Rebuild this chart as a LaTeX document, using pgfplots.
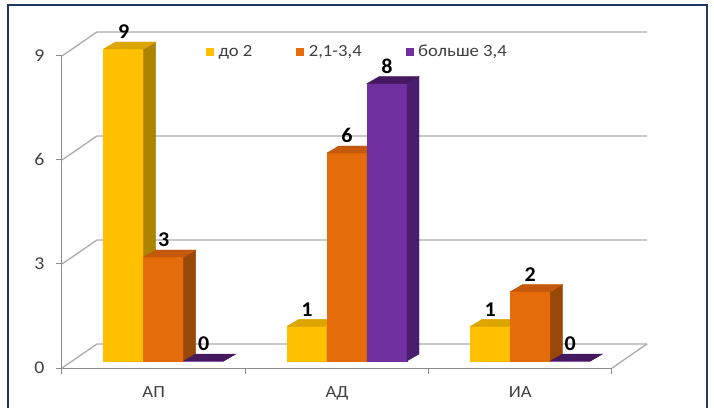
\documentclass[border=0pt]{standalone}
\usepackage{pgfplots}
\usepackage{pgfplotstable}
\pgfplotsset{compat=1.18}
\usepackage{fontspec}
\setmainfont{Carlito}[FakeStretch=1.1]
\newfontfamily\lblfont{Carlito}[FakeStretch=1.05]

\definecolor{yF}{HTML}{FFC000}
\definecolor{yS}{HTML}{AD8400}
\definecolor{yT}{HTML}{DDA500}
\definecolor{oF}{HTML}{E46C0A}
\definecolor{oS}{HTML}{984807}
\definecolor{oT}{HTML}{C4580C}
\definecolor{pF}{HTML}{7030A0}
\definecolor{pS}{HTML}{4A1E6C}
\definecolor{pT}{HTML}{45195F}
\definecolor{gridc}{HTML}{ABABAB}
\definecolor{axisc}{HTML}{8C8C8C}
\definecolor{tickc}{HTML}{404040}
\definecolor{framec}{HTML}{1F3864}

\pgfplotstableread{
x v
0.5 9
1.5 1
2.5 1
}\tYellow
\pgfplotstableread{
x v
0.5 3
1.5 6
2.5 2
}\tOrange
\pgfplotstableread{
x v
0.5 0
1.5 8
2.5 0
}\tPurple

\pgfplotsset{
  box3d/.style n args={4}{%
    nodes near coords,
    nodes near coords style={anchor=south, inner sep=0pt, xshift=#1+10pt, yshift=17pt,
      font=\lblfont\fontsize{21}{21}\selectfont\bfseries, text=black},
    scatter, only marks, mark=*, mark size=0pt,
    mark options={draw=none,fill=none},
    visualization depends on={rawy \as \val},
    scatter/@pre marker code/.code={%
      \pgfmathsetlengthmacro\hh{\val*34.67pt}%
      \fill[#2] (#1-10pt, 7pt-\hh) rectangle (#1+30pt, 7pt);
      \fill[#3] (#1+30pt, 7pt) -- (#1+42pt, 14pt) -- (#1+42pt, 14pt-\hh) -- (#1+30pt, 7pt-\hh) -- cycle;
      \fill[#4] (#1-10pt, 7pt) -- (#1+30pt, 7pt) -- (#1+42pt, 14pt) -- (#1+2pt, 14pt) -- cycle;
    },
    legend image code/.code={\fill[#2] (0pt,-3.5pt) rectangle (7pt,3.5pt);},
  }
}

\begin{document}
\begin{tikzpicture}
\begin{axis}[
  x=183.33pt, y=34.67pt,
  xmin=0, xmax=3, ymin=0, ymax=9,
  clip=false,
  axis x line=bottom, axis y line=left,
  axis line style={-, draw=axisc, line width=1pt},
  xtick={0,1,2,3}, xticklabels={АП,АД,ИА}, x tick label as interval,
  ytick={0,3,6,9},
  tick align=outside, major tick length=6pt,
  tick style={draw=axisc, line width=1pt},
  yticklabel style={font=\fontsize{18}{18}\selectfont, text=tickc, xshift=-8pt},
  xticklabel style={font=\fontsize{17}{17}\selectfont, text=tickc, yshift=-9.5pt},
  /pgf/number format/assume math mode=true,
  legend columns=3,
  legend style={at={(axis cs:0.7855,9.13)}, anchor=west, draw=none, fill=none,
    inner sep=0pt, font=\fontsize{17}{17}\selectfont, text=tickc,
    nodes={inner sep=0pt},
    /tikz/every odd column/.append style={column sep=5pt},
    /tikz/every even column/.append style={column sep=44pt}},
  legend cell align=left,
]
\coordinate (O) at (axis cs:0,0);
\pgfplotsinvokeforeach{0,3,6,9}{
  \draw[gridc, line width=1.3pt] (axis cs:0,#1) -- (axis cs:0.191,{#1+0.692}) -- (axis cs:3.191,{#1+0.692});
}
\draw[gridc, line width=1.3pt] (axis cs:3,0) -- (axis cs:3.191,0.692);

\addplot[box3d={-40pt}{yF}{yS}{yT}] table[x=x,y=v] {\tYellow};
\addlegendentry{до 2}
\addplot[box3d={0pt}{oF}{oS}{oT}] table[x=x,y=v] {\tOrange};
\addlegendentry{2,1-3,4}
\addplot[box3d={40pt}{pF}{pS}{pT}] table[x=x,y=v] {\tPurple};
\addlegendentry{больше 3,4}
\end{axis}
\begin{scope}[x=1pt, y=-1pt, shift={(O)}, shift={(-62,-368)}]
  \draw[framec, line width=2pt] (8.5,430) -- (8.5,5.5) -- (706.5,5.5) -- (706.5,430);
  \pgfresetboundingbox
  \useasboundingbox (0,0) rectangle (714,407);
\end{scope}
\end{tikzpicture}
\end{document}
